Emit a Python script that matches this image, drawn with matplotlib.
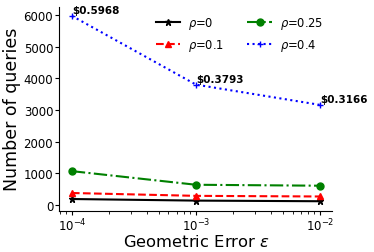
import matplotlib

matplotlib.use("Agg")
import matplotlib.pyplot as plt

eps = [1e-4, 1e-3, 1e-2]
q_rho0 = [190, 140, 120]
q_rho01 = [380, 290, 270]
q_rho025 = [1070, 640, 610]
q_rho04 = [5970, 3800, 3160]
costs = ["$0.5968", "$0.3793", "$0.3166"]

fig = plt.figure(figsize=(3.74, 2.53), dpi=100)
ax = fig.add_axes([0.159, 0.164, 0.730, 0.806])

ax.plot(eps, q_rho0, color="black", linestyle="-", marker="*", markersize=5, label=r"$\rho$=0")
ax.plot(eps, q_rho01, color="red", linestyle="--", marker="^", markersize=5, label=r"$\rho$=0.1")
ax.plot(eps, q_rho025, color="green", linestyle="-.", marker="o", markersize=5, label=r"$\rho$=0.25")
ax.plot(eps, q_rho04, color="blue", linestyle=":", marker="+", markersize=5, label=r"$\rho$=0.4")

for x, y, txt in zip(eps, q_rho04, costs):
    ax.annotate(txt.replace("$", r"\$"), (x, y), xytext=(0, 0.5), textcoords="offset points",
                fontsize=7.5, fontweight="bold", ha="left", va="bottom")

ax.set_xscale("log")
ax.set_yticks([0, 1000, 2000, 3000, 4000, 5000, 6000])
ax.tick_params(labelsize=8.5, length=3, pad=1.5)
ax.tick_params(which="minor", length=1.8)
ax.set_xlabel(r"Geometric Error $\varepsilon$", fontsize=11.8, labelpad=0)
ax.set_ylabel("Number of queries", fontsize=12.5, labelpad=2)
ax.spines["top"].set_visible(False)
ax.spines["right"].set_visible(False)
fig.legend(ncol=2, frameon=False, fontsize=8.3, loc="upper left", bbox_to_anchor=(0.417, 0.935),
           borderpad=0, borderaxespad=0, handlelength=2.1, handletextpad=0.7,
           columnspacing=2.0, labelspacing=0.45)

fig.savefig("out.png", dpi=100)
